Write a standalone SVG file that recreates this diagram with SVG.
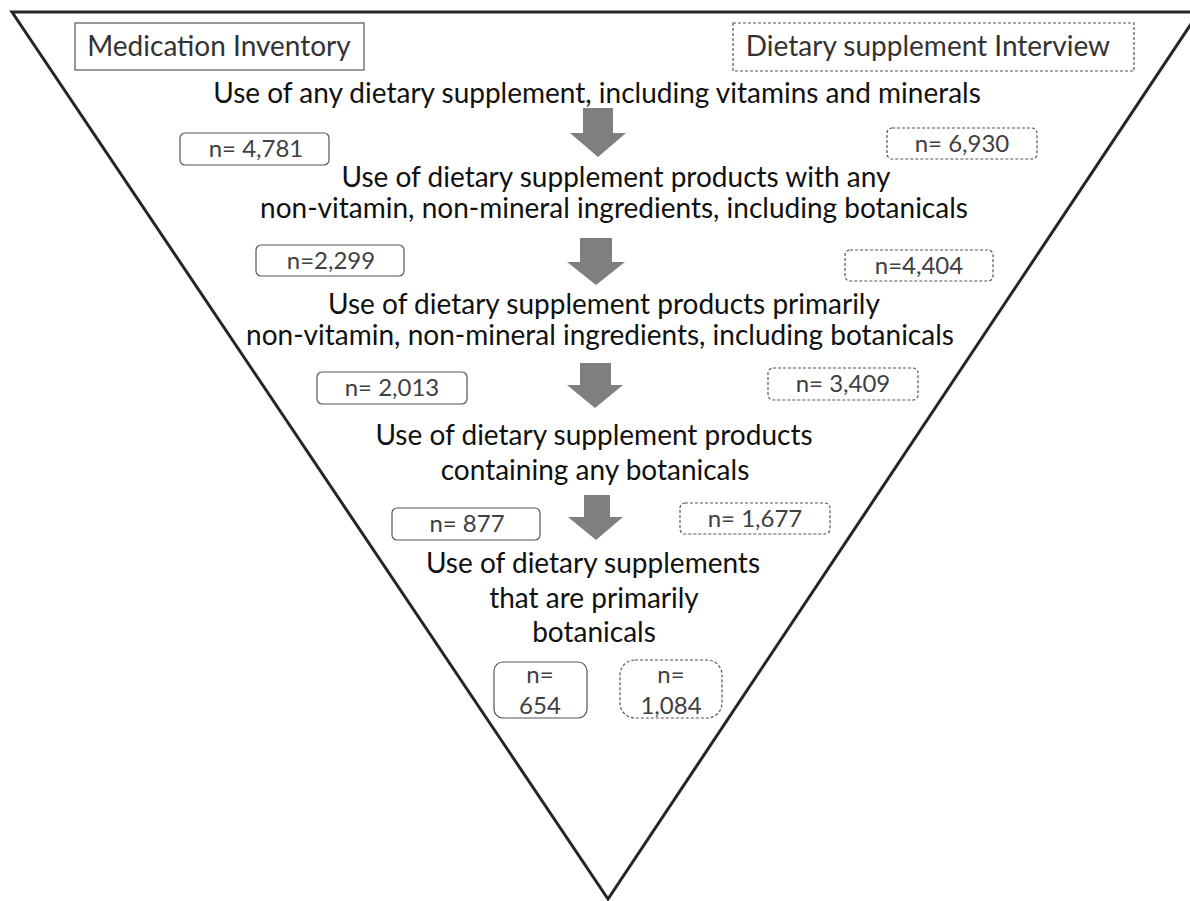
<svg xmlns="http://www.w3.org/2000/svg" width="1190" height="901" viewBox="0 0 1190 901">
<style>
.t{font-family:Lato,"Liberation Sans",sans-serif;font-size:28px;fill:#111;text-anchor:middle}
.n{font-family:Lato,"Liberation Sans",sans-serif;font-size:24px;fill:#404040;text-anchor:middle}
.h{font-family:Lato,"Liberation Sans",sans-serif;font-size:28px;fill:#333;text-anchor:middle}
.solid{fill:#fff;stroke:#555;stroke-width:1.2}
.dash{fill:#fff;stroke:#555;stroke-width:1.2;stroke-dasharray:3 2}
.arr{fill:#7f7f7f}
</style>
<rect width="1190" height="901" fill="#fff"/>
<g id="funnel">
<polygon points="12,12 1199,12 608,899" fill="none" stroke="#262626" stroke-width="3"/>
</g>
<g id="header-medication">
<rect class="solid" x="75" y="23" width="289" height="47"/>
<text class="h" x="219" y="56">Medication Inventory</text>
</g>
<g id="header-interview">
<rect class="dash" x="733" y="23" width="401" height="48"/>
<text class="h" x="928" y="56">Dietary supplement Interview</text>
</g>
<g id="level1">
<text class="t" x="597" y="103">Use of any dietary supplement, including vitamins and minerals</text>
</g>
<g id="level2">
<text class="t" x="616" y="187">Use of dietary supplement products with any</text>
<text class="t" x="614" y="218">non-vitamin, non-mineral ingredients, including botanicals</text>
</g>
<g id="level3">
<text class="t" x="604" y="314">Use of dietary supplement products primarily</text>
<text class="t" x="600" y="345">non-vitamin, non-mineral ingredients, including botanicals</text>
</g>
<g id="level4">
<text class="t" x="594" y="445">Use of dietary supplement products</text>
<text class="t" x="595" y="480">containing any botanicals</text>
</g>
<g id="level5">
<text class="t" x="593" y="573">Use of dietary supplements</text>
<text class="t" x="594" y="608">that are primarily</text>
<text class="t" x="594" y="642">botanicals</text>
</g>
<g id="mi1"><rect class="solid" x="180" y="133" width="149" height="32" rx="5"/><text class="n" x="256" y="157">n= 4,781</text></g>
<g id="mi2"><rect class="solid" x="256" y="245" width="148" height="31" rx="5"/><text class="n" x="331" y="269">n=2,299</text></g>
<g id="mi3"><rect class="solid" x="317" y="372" width="150" height="32" rx="5"/><text class="n" x="392" y="396">n= 2,013</text></g>
<g id="mi4"><rect class="solid" x="392" y="508" width="148" height="32" rx="5"/><text class="n" x="467" y="532">n= 877</text></g>
<g id="mi5"><rect class="solid" x="494" y="662" width="93" height="56" rx="9"/><text class="n" x="540" y="683">n=</text><text class="n" x="540" y="714">654</text></g>
<g id="di1"><rect class="dash" x="887" y="128" width="150" height="31" rx="5"/><text class="n" x="962" y="152">n= 6,930</text></g>
<g id="di2"><rect class="dash" x="845" y="250" width="148" height="31" rx="5"/><text class="n" x="919" y="274">n=4,404</text></g>
<g id="di3"><rect class="dash" x="768" y="368" width="150" height="32" rx="5"/><text class="n" x="843" y="392">n= 3,409</text></g>
<g id="di4"><rect class="dash" x="680" y="503" width="150" height="31" rx="5"/><text class="n" x="755" y="527">n= 1,677</text></g>
<g id="di5"><rect class="dash" x="620" y="660" width="102" height="58" rx="15"/><text class="n" x="671" y="683">n=</text><text class="n" x="671" y="714">1,084</text></g>
<g id="connectors">
<path class="arr" d="M583,108 H613 V133 H626 L598,157 L570,133 H583 Z"/>
<path class="arr" d="M580,238 H612 V262 H625 L596,285 L567,262 H580 Z"/>
<path class="arr" d="M580,363 H611 V385 H623 L595,408 L567,385 H580 Z"/>
<path class="arr" d="M584,495 H610 V517 H623 L596,540 L568,517 H584 Z"/>
</g>
</svg>
